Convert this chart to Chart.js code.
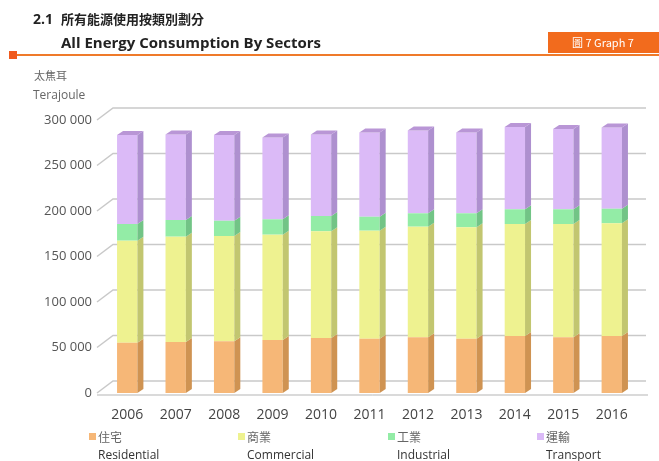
<!DOCTYPE html>
<html>
<head>
<meta charset="utf-8">
<script src="https://cdn.jsdelivr.net/npm/chart.js@4.4.1/dist/chart.umd.min.js"></script>
<style>
  body { margin: 0; background: #fff; }
  canvas { display: block; }
</style>
</head>
<body>
<canvas id="myChart" width="659" height="461"></canvas>
<script>
const years = ['2006', '2007', '2008', '2009', '2010', '2011', '2012', '2013', '2014', '2015', '2016'];
const residential = [55300, 56000, 56800, 58200, 60400, 59700, 61200, 59700, 62600, 61200, 62600];
const commercial = [112100, 115800, 115700, 115800, 117300, 118700, 121600, 122400, 123100, 124500, 123900];
const industrial = [18300, 18300, 16800, 16900, 16800, 15300, 14700, 15400, 16200, 16200, 16000];
const transport = [97800, 94000, 94200, 89900, 89600, 92600, 91000, 88800, 90400, 88200, 89300];
const yTicks = [0, 50000, 100000, 150000, 200000, 250000, 300000];

const CN = '"Noto Sans CJK TC", "Noto Sans", sans-serif';
const EN = '"Open Sans", "Noto Sans", sans-serif';

// front / side colours for each sector
const fronts = ['#f6b777', '#eef290', '#93eca6', '#dbbaf7'];
const sides = ['#cf9352', '#c2c670', '#72c486', '#ae90cf'];
const DX = 6, DY = 4;

function fmt(v) {
  return String(v).replace(/\B(?=(\d{3})+(?!\d))/g, ' ');
}

const deco = {
  id: 'deco',
  beforeDraw(chart) {
    const c = chart.ctx;
    c.save();
    c.fillStyle = '#fff';
    c.fillRect(0, 0, chart.width, chart.height);

    // header
    c.fillStyle = '#222';
    c.textBaseline = 'alphabetic';
    c.font = 'bold 14px ' + EN;
    c.fillText('2.1', 33, 24);
    c.font = 'bold 13px ' + CN;
    c.fillText('所有能源使用按類別劃分', 61, 24);
    c.font = 'bold 15px ' + EN;
    c.fillText('All Energy Consumption By Sectors', 61, 48);

    c.fillStyle = '#f26b1d';
    c.fillRect(548, 32, 111, 21);
    c.fillStyle = '#fff';
    c.font = '11px ' + CN;
    c.textAlign = 'center';
    c.fillText('圖 7 Graph 7', 603, 47);
    c.textAlign = 'left';

    c.strokeStyle = '#ef7a2a';
    c.lineWidth = 2;
    c.beginPath();
    c.moveTo(12, 55);
    c.lineTo(659, 55);
    c.stroke();
    c.fillStyle = '#f05a1e';
    c.fillRect(9, 51, 8, 8);

    // unit
    c.fillStyle = '#666';
    c.font = '11px ' + CN;
    c.fillText('太焦耳', 34, 80);
    c.font = '12px ' + EN;
    c.fillText('Terajoule', 33, 99);

    // legend
    const cnNames = ['住宅', '商業', '工業', '運輸'];
    const enNames = ['Residential', 'Commercial', 'Industrial', 'Transport'];
    const lx = [89, 238, 388, 537];
    for (let i = 0; i < 4; i++) {
      c.fillStyle = fronts[i];
      c.fillRect(lx[i], 433, 7, 7);
      c.fillStyle = '#666';
      c.font = '12px ' + CN;
      c.fillText(cnNames[i], lx[i] + 9, 442);
      c.fillStyle = '#333';
      c.font = '12px ' + EN;
      c.fillText(enNames[i], lx[i] + 9, 459);
    }
    c.restore();
  },
  beforeDatasetsDraw(chart) {
    const c = chart.ctx;
    const y = chart.scales.y;
    const a = chart.chartArea;
    c.save();
    c.strokeStyle = '#c9c9c9';
    c.lineWidth = 1.5;
    yTicks.forEach(function (v) {
      const py = y.getPixelForValue(v);
      c.beginPath();
      c.moveTo(a.left - 6, py);
      c.lineTo(a.left + 10, py - 12);
      c.lineTo(a.right + 10, py - 12);
      c.stroke();
    });
    // front floor line
    const p0 = y.getPixelForValue(0) + 2;
    c.strokeStyle = '#b5b5b5';
    c.lineWidth = 1;
    c.beginPath();
    c.moveTo(a.left - 6, p0);
    c.lineTo(a.right + 12, p0);
    c.stroke();
    c.restore();
  },
  afterDatasetsDraw(chart) {
    const c = chart.ctx;
    c.save();
    const n = chart.data.datasets.length;
    for (let d = 0; d < n; d++) {
      chart.getDatasetMeta(d).data.forEach(function (el) {
        const r = el.x + el.width / 2;
        const l = el.x - el.width / 2;
        c.fillStyle = sides[d];
        c.beginPath();
        c.moveTo(r, el.y);
        c.lineTo(r + DX, el.y - DY);
        c.lineTo(r + DX, el.base - DY);
        c.lineTo(r, el.base);
        c.closePath();
        c.fill();
        if (d === n - 1) {
          c.fillStyle = '#b996d6';
          c.beginPath();
          c.moveTo(l, el.y);
          c.lineTo(l + DX, el.y - DY);
          c.lineTo(r + DX, el.y - DY);
          c.lineTo(r, el.y);
          c.closePath();
          c.fill();
        }
      });
    }
    c.restore();
  }
};

new Chart(document.getElementById('myChart'), {
  type: 'bar',
  data: {
    labels: years,
    datasets: [
      { label: '住宅 Residential', data: residential, backgroundColor: fronts[0] },
      { label: '商業 Commercial', data: commercial, backgroundColor: fronts[1] },
      { label: '工業 Industrial', data: industrial, backgroundColor: fronts[2] },
      { label: '運輸 Transport', data: transport, backgroundColor: fronts[3] }
    ]
  },
  options: {
    responsive: false,
    animation: false,
    layout: { padding: { top: 120, right: 23, left: 0, bottom: 0 } },
    plugins: { legend: { display: false }, tooltip: { enabled: false } },
    datasets: { bar: { categoryPercentage: 1, barPercentage: 0.42 } },
    scales: {
      x: {
        stacked: true,
        grid: { display: false },
        border: { display: false },
        ticks: { color: '#444', font: { family: EN, size: 14 }, padding: 6 },
        afterFit(s) { s.height = 68; }
      },
      y: {
        stacked: true,
        min: 0,
        max: 300000,
        grid: { display: false, drawTicks: false },
        border: { display: false },
        ticks: {
          stepSize: 50000,
          color: '#555',
          padding: 11,
          font: { family: EN, size: 13 },
          callback: function (v) { return fmt(v); }
        },
        afterFit(s) { s.width = 103; }
      }
    }
  },
  plugins: [deco]
});
</script>
</body>
</html>
